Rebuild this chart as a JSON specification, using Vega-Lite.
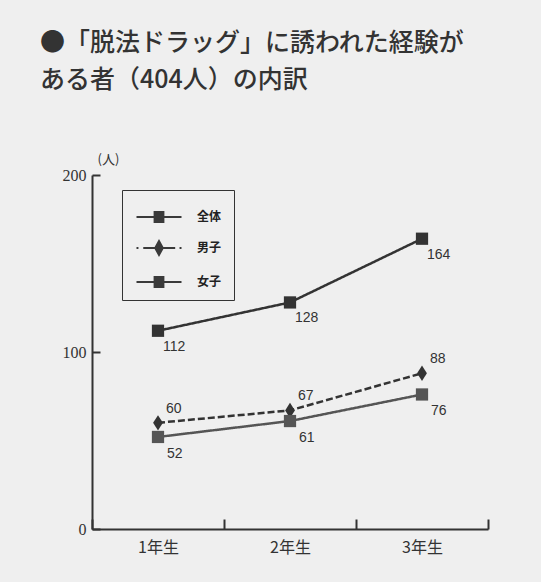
{
  "$schema": "https://vega.github.io/schema/vega-lite/v6.json",
  "width": 396,
  "height": 354,
  "autosize": {"type": "none"},
  "padding": {"left": 92, "top": 175, "right": 53, "bottom": 53},
  "background": "#efefef",
  "config": {"view": {"stroke": null}, "font": "Noto Sans CJK JP"},
  "title": {
    "text": ["●「脱法ドラッグ」に誘われた経験が", "ある者（404人）の内訳"],
    "anchor": "start",
    "frame": "group",
    "fontSize": 25,
    "fontWeight": 500,
    "color": "#333333",
    "lineHeight": 37,
    "dx": -52,
    "offset": 60,
    "font": "Noto Sans CJK JP"
  },
  "data": {
    "values": [
      {"grade": "1年生", "series": "全体", "value": 112},
      {"grade": "2年生", "series": "全体", "value": 128},
      {"grade": "3年生", "series": "全体", "value": 164},
      {"grade": "1年生", "series": "男子", "value": 60},
      {"grade": "2年生", "series": "男子", "value": 67},
      {"grade": "3年生", "series": "男子", "value": 88},
      {"grade": "1年生", "series": "女子", "value": 52},
      {"grade": "2年生", "series": "女子", "value": 61},
      {"grade": "3年生", "series": "女子", "value": 76}
    ]
  },
  "encoding": {
    "x": {
      "field": "grade",
      "type": "ordinal",
      "bandPosition": 0.5,
      "sort": ["1年生", "2年生", "3年生"],
      "scale": {"type": "band", "paddingInner": 0, "paddingOuter": 0},
      "axis": {
        "title": null,
        "labelAngle": 0,
        "tickBand": "extent",
        "tickSize": -10,
        "tickColor": "#333333",
        "tickWidth": 2,
        "domainColor": "#333333",
        "domainWidth": 2,
        "labelFontSize": 16,
        "labelFont": "Noto Sans CJK JP",
        "labelColor": "#333333",
        "labelPadding": 20
      }
    },
    "y": {
      "field": "value",
      "type": "quantitative",
      "scale": {"domain": [0, 200]},
      "axis": {
        "values": [0, 100, 200],
        "grid": false,
        "title": "(人)",
        "titleAngle": 0,
        "titleAlign": "left",
        "titleX": 5,
        "titleY": -9,
        "titleBaseline": "bottom",
        "titleFontSize": 13,
        "titleFontWeight": "normal",
        "titleColor": "#333333",
        "titleFont": "Noto Sans CJK JP",
        "tickSize": -8,
        "tickWidth": 2,
        "tickColor": "#333333",
        "domainColor": "#333333",
        "domainWidth": 2,
        "labelFontSize": 16,
        "labelFont": "Liberation Sans Narrow",
        "labelColor": "#333333",
        "labelPadding": 14
      }
    }
  },
  "layer": [
    {
      "mark": {"type": "line", "strokeWidth": 2.5},
      "encoding": {
        "color": {
          "field": "series",
          "type": "nominal",
          "scale": {"domain": ["全体", "男子", "女子"], "range": ["#333333", "#333333", "#555555"]},
          "legend": null
        },
        "strokeDash": {
          "field": "series",
          "type": "nominal",
          "scale": {"domain": ["全体", "男子", "女子"], "range": [[1, 0], [7, 3], [1, 0]]},
          "legend": null
        }
      }
    },
    {
      "mark": {"type": "point", "filled": true, "size": 150, "opacity": 1},
      "encoding": {
        "color": {"field": "series", "type": "nominal", "legend": null},
        "shape": {
          "field": "series",
          "type": "nominal",
          "scale": {"domain": ["全体", "男子", "女子"], "range": ["square", "M0,-1.25L0.8,0L0,1.25L-0.8,0Z", "square"]},
          "legend": null
        }
      }
    },
    {
      "mark": {"type": "point", "filled": true, "opacity": 0, "color": "#3a3a3a"},
      "encoding": {
        "shape": {
          "field": "series",
          "type": "nominal",
          "scale": {
            "domain": ["全体", "男子", "女子"],
            "range": [
              "M-1.5,-0.067H1.5V0.067H-1.5Z M-0.36,-0.4H0.36V0.4H-0.36Z",
              "M-1.5,-0.067H-1.37V0.067H-1.5Z M-1.05,-0.067H1.08V0.067H-1.05Z M1.37,-0.067H1.5V0.067H1.37Z M0,-0.6L0.33,0L0,0.6L-0.33,0Z",
              "M-1.5,-0.067H1.5V0.067H-1.5Z M-0.36,-0.4H0.36V0.4H-0.36Z"
            ]
          },
          "legend": {
            "title": null,
            "orient": "none",
            "legendX": 30,
            "legendY": 15,
            "strokeColor": "#333333",
            "padding": 12,
            "symbolSize": 900,
            "symbolOffset": 10,
            "symbolStrokeWidth": 0,
            "symbolFillColor": "#3a3a3a",
            "rowPadding": 10,
            "labelOffset": 23,
            "labelFontSize": 12,
            "labelFont": "Noto Sans CJK JP",
            "labelFontWeight": "bold",
            "labelColor": "#222222",
            "encode": {
              "symbols": {
                "update": {
                  "fill": {"value": "#3a3a3a"},
                  "stroke": {"value": "transparent"},
                  "opacity": {"value": 1}
                }
              },
              "legend": {"update": {"strokeWidth": {"value": 2}}}
            }
          }
        }
      }
    },
    {
      "transform": [{"filter": "datum.series === '全体'"}],
      "mark": {"type": "text", "align": "left", "baseline": "middle", "dx": 5, "dy": 16, "fontSize": 14, "font": "Liberation Sans", "color": "#333333"},
      "encoding": {"text": {"field": "value", "type": "quantitative"}}
    },
    {
      "transform": [{"filter": "datum.series === '男子'"}],
      "mark": {"type": "text", "align": "left", "baseline": "middle", "dx": 8, "dy": -14, "fontSize": 14, "font": "Liberation Sans", "color": "#333333"},
      "encoding": {"text": {"field": "value", "type": "quantitative"}}
    },
    {
      "transform": [{"filter": "datum.series === '女子'"}],
      "mark": {"type": "text", "align": "left", "baseline": "middle", "dx": 9, "dy": 17, "fontSize": 14, "font": "Liberation Sans", "color": "#333333"},
      "encoding": {"text": {"field": "value", "type": "quantitative"}}
    }
  ],
  "resolve": {"scale": {"shape": "independent"}, "legend": {"shape": "independent"}}
}
